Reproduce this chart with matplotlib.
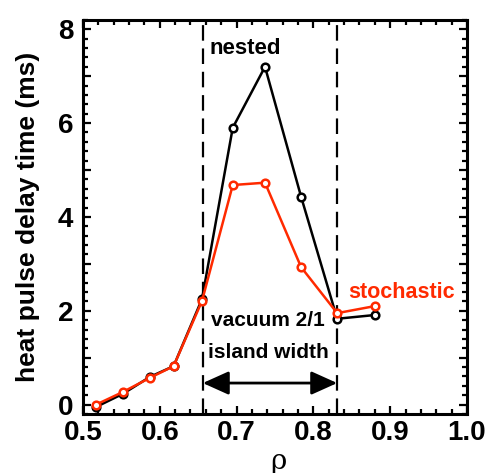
import matplotlib
matplotlib.use("Agg")
import matplotlib.pyplot as plt
from matplotlib.ticker import MultipleLocator, FuncFormatter
from matplotlib import font_manager

# ---- data ----
rho = [0.517, 0.552, 0.587, 0.618, 0.655, 0.695, 0.737, 0.784, 0.831, 0.880]
nested = [-0.05, 0.23, 0.59, 0.82, 2.25, 5.90, 7.20, 4.43, 1.83, 1.91]
stochastic = [0.0, 0.27, 0.57, 0.82, 2.21, 4.68, 4.73, 2.93, 1.95, 2.10]
island_edges = [0.656, 0.831]
xticks = [0.5, 0.6, 0.7, 0.8, 0.9, 1.0]
yticks = [0, 2, 4, 6, 8]

names = {f.name for f in font_manager.fontManager.ttflist}
fam = 'Liberation Sans Narrow' if 'Liberation Sans Narrow' in names else 'Liberation Sans'
plt.rcParams['font.family'] = [fam, 'DejaVu Sans']
plt.rcParams['font.weight'] = 'bold'

RED = '#ff2a00'

fig = plt.figure(figsize=(4.88, 4.73), dpi=100)
ax = fig.add_axes([0.170, 0.1247, 0.787, 0.8333])

ax.plot(rho, nested, color='black', lw=1.8, marker='o', ms=5.5, mfc='white',
        mec='black', mew=1.8, zorder=3)
ax.plot(rho, stochastic, color=RED, lw=1.8, marker='o', ms=5.5, mfc='white',
        mec=RED, mew=1.8, zorder=4)

for xe in island_edges:
    ax.axvline(xe, color='black', lw=1.6, dashes=(7, 3.5), zorder=2)

ax.annotate('', xy=(island_edges[0], 0.46), xytext=(island_edges[1], 0.46),
            arrowprops=dict(arrowstyle='<|-|>,head_length=0.8,head_width=0.36',
                            lw=2, color='black', mutation_scale=20,
                            shrinkA=0, shrinkB=0))

ax.text(0.665, 7.60, 'nested', fontsize=16, fontweight='bold', ha='left', va='center')
ax.text(0.845, 2.40, 'stochastic', fontsize=15.5, fontweight='bold', ha='left',
        va='center', color=RED)
ax.text(0.741, 1.80, 'vacuum 2/1', fontsize=15, fontweight='bold', ha='center', va='center')
ax.text(0.741, 1.12, 'island width', fontsize=15, fontweight='bold', ha='center', va='center')

ax.set_xlim(0.5, 1.0)
ax.set_ylim(-0.2, 8.2)
ax.set_xticks(xticks)
ax.xaxis.set_major_formatter(FuncFormatter(lambda v, p: f'{v:.1f}'))
ax.xaxis.set_minor_locator(MultipleLocator(0.02))
ax.yaxis.set_major_locator(MultipleLocator(1))
ax.yaxis.set_major_formatter(FuncFormatter(lambda v, p: f'{int(round(v))}' if int(round(v)) in yticks else ''))
ax.yaxis.set_minor_locator(MultipleLocator(0.2))

ax.tick_params(which='both', direction='in', top=True, right=True, width=1.6)
ax.tick_params(which='major', length=6, labelsize=20)
ax.tick_params(which='minor', length=3.5)
ax.tick_params(axis='y', which='major', pad=7)
ax.tick_params(axis='x', which='major', pad=4)
for lab in ax.get_xticklabels() + ax.get_yticklabels():
    lab.set_fontweight('bold')
for s in ax.spines.values():
    s.set_linewidth(2.2)

ax.set_ylabel('heat pulse delay time (ms)', fontsize=19, fontweight='bold')
ax.yaxis.set_label_coords(-0.112, 0.5)
ax.set_xlabel('ρ', fontsize=20, fontweight='normal', family=['DejaVu Serif'])
ax.xaxis.set_label_coords(0.508, -0.085)

fig.savefig('out.png', dpi=100)
